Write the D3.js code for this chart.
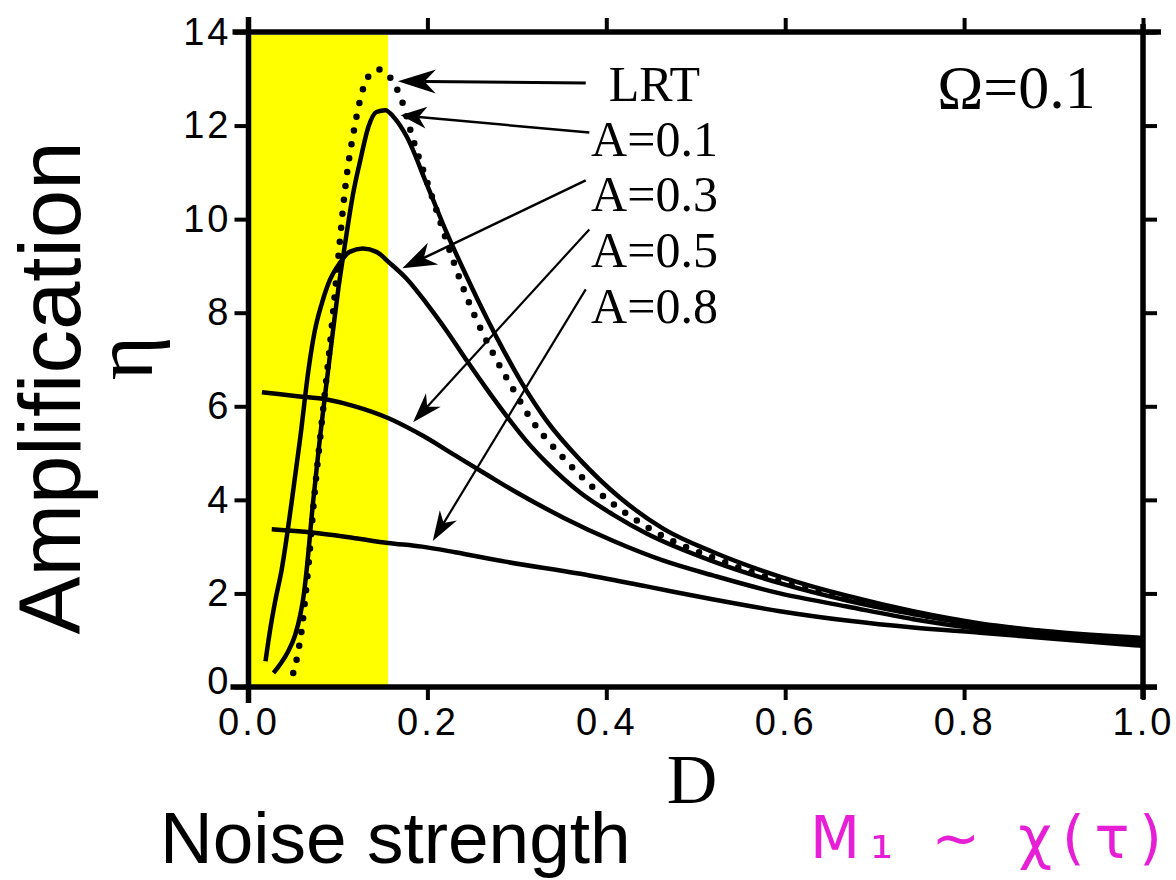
<!DOCTYPE html>
<html>
<head>
<meta charset="utf-8">
<script src="https://cdn.jsdelivr.net/npm/d3@7"></script>
<style>
  body { margin: 0; background: #fff; }
  svg { display: block; }
</style>
</head>
<body>
<svg width="1176" height="880"></svg>
<script>
// Curve data: [D, eta]
const lrt = [[0.050,0.3],[0.055,0.7],[0.060,1.3],[0.064,2.0],[0.068,2.8],[0.073,3.95],[0.080,5.3],[0.086,6.4],[0.091,7.3],[0.096,8.3],[0.101,9.3],[0.106,10.3],[0.111,11.1],[0.117,11.8],[0.123,12.4],[0.129,12.84],[0.137,13.12],[0.146,13.2],[0.154,13.12],[0.165,12.82],[0.172,12.5],[0.184,11.7],[0.197,10.95],[0.210,10.2],[0.229,9.1],[0.248,8.15],[0.277,7.0],[0.296,6.36],[0.315,5.75],[0.348,4.98],[0.382,4.32],[0.426,3.66],[0.464,3.22],[0.52,2.76],[0.594,2.26],[0.669,1.88],[0.743,1.58],[0.818,1.33],[0.9,1.15],[1.0,1.02]];
const a01 = [[0.028,0.3],[0.036,0.5],[0.044,0.75],[0.052,1.1],[0.058,1.55],[0.062,2.0],[0.065,2.5],[0.072,3.92],[0.080,5.35],[0.089,6.77],[0.095,7.7],[0.100,8.45],[0.108,9.48],[0.117,10.55],[0.125,11.26],[0.134,11.97],[0.143,12.29],[0.153,12.33],[0.162,12.19],[0.177,11.76],[0.199,10.76],[0.222,9.69],[0.244,8.77],[0.266,7.9],[0.285,7.2],[0.304,6.55],[0.333,5.7],[0.371,4.85],[0.415,4.05],[0.464,3.38],[0.52,2.88],[0.594,2.36],[0.669,1.95],[0.743,1.62],[0.818,1.36],[0.9,1.18],[1.0,1.05]];
const a03 = [[0.019,0.55],[0.024,1.2],[0.030,1.85],[0.037,2.5],[0.048,3.92],[0.058,5.35],[0.067,6.77],[0.074,7.6],[0.082,8.2],[0.091,8.7],[0.102,9.06],[0.113,9.3],[0.128,9.37],[0.143,9.3],[0.158,9.06],[0.177,8.72],[0.199,8.2],[0.222,7.6],[0.245,6.95],[0.267,6.35],[0.289,5.78],[0.311,5.25],[0.333,4.8],[0.371,4.15],[0.408,3.68],[0.445,3.28],[0.52,2.68],[0.594,2.22],[0.669,1.85],[0.743,1.56],[0.818,1.32],[0.9,1.15],[1.0,1.0]];
const a05 = [[0.015,6.3],[0.052,6.22],[0.089,6.14],[0.119,6.0],[0.156,5.75],[0.194,5.38],[0.231,4.95],[0.268,4.52],[0.296,4.2],[0.352,3.62],[0.408,3.12],[0.464,2.7],[0.52,2.38],[0.594,2.0],[0.669,1.72],[0.743,1.45],[0.818,1.24],[0.9,1.08],[1.0,0.95]];
const a08 = [[0.026,3.37],[0.071,3.30],[0.119,3.18],[0.156,3.08],[0.194,3.0],[0.231,2.88],[0.287,2.68],[0.371,2.42],[0.445,2.15],[0.52,1.87],[0.594,1.62],[0.669,1.42],[0.743,1.27],[0.818,1.16],[0.9,1.03],[1.0,0.88]];

const xTicks = [0, 0.2, 0.4, 0.6, 0.8, 1.0];
const yTicks = [0, 2, 4, 6, 8, 10, 12, 14];
const band = [0, 0.156];

// Labels with their arrows (data units)
const labels = ["LRT", "A=0.1", "A=0.3", "A=0.5", "A=0.8"];
const labelPos = [[0.4026, 12.53], [0.383, 11.35], [0.383, 10.18], [0.383, 8.97], [0.383, 7.79]];
const arrowFrom = [[0.377, 12.91], [0.381, 11.85], [0.377, 10.83], [0.381, 9.78], [0.377, 8.5]];
const arrowTo = [[0.167, 12.95], [0.170, 12.22], [0.172, 8.95], [0.184, 5.66], [0.206, 3.12]];

const svg = d3.select("svg");

const x = d3.scaleLinear().domain([0, 1]).range([248.5, 1143]);
const y = d3.scaleLinear().domain([0, 14]).range([687, 32]);

// Highlighted band
svg.append("rect")
  .attr("x", x(band[0]))
  .attr("y", y(14) + 3)
  .attr("width", x(band[1]) - x(band[0]))
  .attr("height", y(0) - y(14) - 3)
  .attr("fill", "#ffff00");

// Curves
const line = d3.line().x(d => x(d[0])).y(d => y(d[1])).curve(d3.curveMonotoneX);

[a08, a05, a03, a01].forEach(s => {
  svg.append("path")
    .attr("d", line(s))
    .attr("fill", "none")
    .attr("stroke", "#000")
    .attr("stroke-width", 4.5)
    .attr("stroke-linejoin", "round");
});

svg.append("path")
  .attr("d", line(lrt))
  .attr("fill", "none")
  .attr("stroke", "#000")
  .attr("stroke-width", 6.5)
  .attr("stroke-linecap", "round")
  .attr("stroke-dasharray", "0 14");

// Axes (ticks + labels), frame drawn separately
const tickFont = g => g.selectAll("text")
  .style("font-family", "'Liberation Sans', Arial, sans-serif")
  .style("font-size", "38px")
  .style("letter-spacing", "3px")
  .attr("fill", "#000");

const styleTicks = g => {
  g.select(".domain").remove();
  g.selectAll(".tick line").attr("stroke", "#000").attr("stroke-width", 4);
};

svg.append("g")
  .attr("transform", `translate(0,${y(0)})`)
  .call(d3.axisBottom(x).tickValues(xTicks).tickSize(13).tickPadding(8).tickFormat(d3.format(".1f")))
  .call(styleTicks).call(tickFont);

svg.append("g")
  .attr("transform", `translate(0,${y(14)})`)
  .call(d3.axisTop(x).tickValues(xTicks).tickSize(14).tickFormat(""))
  .call(styleTicks);

svg.append("g")
  .attr("transform", `translate(${x(0)},0)`)
  .call(d3.axisLeft(y).tickValues(yTicks).tickSize(14).tickPadding(3).tickFormat(d3.format("d")))
  .call(styleTicks).call(tickFont)
  // lift the zero label a touch so it clears the 0.0 label below it
  .call(g => g.selectAll(".tick text").filter(d => d === 0).attr("dy", "0.16em"));

svg.append("g")
  .attr("transform", `translate(${x(1)},0)`)
  .call(d3.axisRight(y).tickValues(yTicks).tickSize(14).tickFormat(""))
  .call(styleTicks);

// Frame lines, running a little past the corners as in the scan
const frame = svg.append("g").attr("stroke", "#000").attr("stroke-width", 5.5);
frame.append("line").attr("x1", x(0) - 16).attr("x2", x(1) + 18).attr("y1", y(14)).attr("y2", y(14));
frame.append("line").attr("x1", x(0) - 18).attr("x2", x(1) + 14).attr("y1", y(0)).attr("y2", y(0));
frame.append("line").attr("x1", x(0)).attr("x2", x(0)).attr("y1", y(14) - 15).attr("y2", y(0) + 16);
frame.append("line").attr("x1", x(1)).attr("x2", x(1)).attr("y1", y(14) - 8).attr("y2", y(0) + 12);

// Arrows
const headSize = [[38, 12], [26, 11], [34, 12], [30, 10], [30, 10]];
const shaftWidth = [3, 2.5, 2.5, 2.2, 2.2];
labels.forEach((lab, i) => {
  const x1 = x(arrowFrom[i][0]), y1 = y(arrowFrom[i][1]);
  const x2 = x(arrowTo[i][0]), y2 = y(arrowTo[i][1]);
  const len = Math.hypot(x2 - x1, y2 - y1);
  const ux = (x2 - x1) / len, uy = (y2 - y1) / len;
  const nx = -uy, ny = ux;
  const [L, W] = headSize[i];
  const notch = L * 0.7;
  svg.append("line")
    .attr("x1", x1).attr("y1", y1)
    .attr("x2", x2 - ux * notch).attr("y2", y2 - uy * notch)
    .attr("stroke", "#000").attr("stroke-width", shaftWidth[i]);
  const pts = [
    [x2, y2],
    [x2 - ux * L + nx * W, y2 - uy * L + ny * W],
    [x2 - ux * notch, y2 - uy * notch],
    [x2 - ux * L - nx * W, y2 - uy * L - ny * W]
  ];
  svg.append("path")
    .attr("d", "M" + pts.map(p => p.join(",")).join("L") + "Z")
    .attr("fill", "#000");
});

// Curve labels
svg.selectAll(".curve-label")
  .data(labels)
  .enter()
  .append("text")
  .attr("class", "curve-label")
  .attr("x", (d, i) => x(labelPos[i][0]))
  .attr("y", (d, i) => y(labelPos[i][1]))
  .style("font-family", "'Liberation Serif', 'Times New Roman', serif")
  .style("font-size", "50px")
  .attr("fill", "#000")
  .text(d => d);

svg.append("text")
  .attr("x", x(0.770))
  .attr("y", y(12.37))
  .style("font-family", "'Liberation Serif', 'Times New Roman', serif")
  .style("font-size", "62px")
  .text("Ω=0.1");

// Axis titles
svg.append("text")
  .attr("x", 692)
  .attr("y", 803)
  .attr("text-anchor", "middle")
  .style("font-family", "'Liberation Serif', 'Times New Roman', serif")
  .style("font-size", "70px")
  .text("D");

svg.append("text")
  .attr("transform", "translate(152,358) rotate(-90)")
  .attr("text-anchor", "middle")
  .style("font-family", "'Liberation Serif', 'Times New Roman', serif")
  .style("font-size", "85px")
  .text("η");

svg.append("text")
  .attr("transform", "translate(80,388) rotate(-90)")
  .attr("text-anchor", "middle")
  .style("font-family", "'Liberation Sans', Arial, sans-serif")
  .style("font-size", "87px")
  .text("Amplification");

svg.append("text")
  .attr("x", 160)
  .attr("y", 863)
  .style("font-family", "'Liberation Sans', Arial, sans-serif")
  .style("font-size", "73px")
  .text("Noise strength");

// Handwritten note
svg.append("text")
  .attr("x", 810)
  .attr("y", 858)
  .attr("textLength", 352)
  .attr("lengthAdjust", "spacing")
  .style("font-family", "'DejaVu Sans', sans-serif")
  .style("font-size", "58px")
  .attr("fill", "#e61fd6")
  .text("M₁ ∼ χ(τ)");
</script>
</body>
</html>
